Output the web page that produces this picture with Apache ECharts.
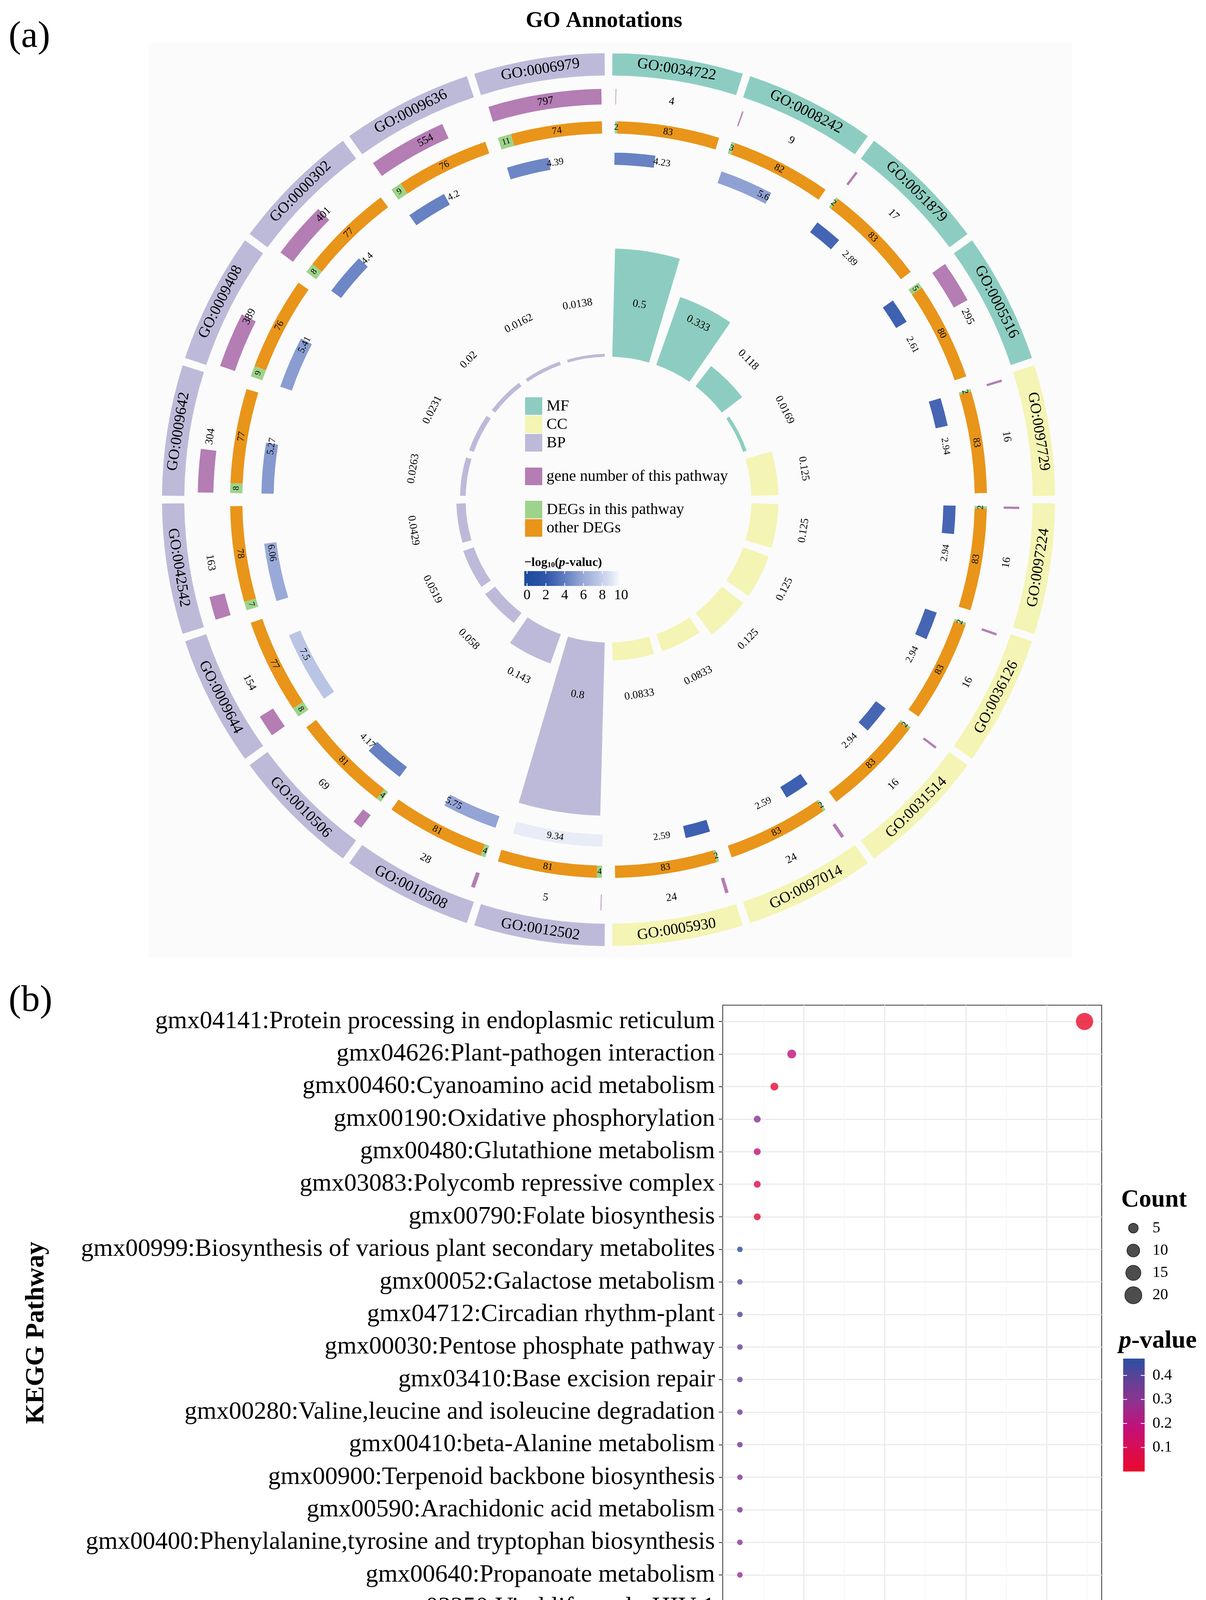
<!DOCTYPE html>
<html><head><meta charset="utf-8">
<script src="https://cdn.jsdelivr.net/npm/echarts@6/dist/echarts.min.js"></script>
<style>html,body{margin:0;padding:0;background:#fff}#c{width:3087px;height:4461px}</style>
</head><body><div id="c"></div>
<script>
// ================= DATA: GO circle (clockwise from 12 o'clock) =================
const goTerms = ['GO:0034722','GO:0008242','GO:0051879','GO:0005516','GO:0097729','GO:0097224','GO:0036126','GO:0031514','GO:0097014','GO:0005930','GO:0012502','GO:0010508','GO:0010506','GO:0009644','GO:0042542','GO:0009642','GO:0009408','GO:0000302','GO:0009636','GO:0006979'];
const goOntology = ['MF','MF','MF','MF','CC','CC','CC','CC','CC','CC','BP','BP','BP','BP','BP','BP','BP','BP','BP','BP'];
const geneNumber = [4,9,17,295,16,16,16,16,24,24,5,28,69,154,163,304,389,401,554,797];
const degsInPathway = [2,3,2,5,2,2,2,2,2,2,4,4,4,8,7,8,9,8,9,11];
const otherDegs = [83,82,83,80,83,83,83,83,83,83,81,81,81,77,78,77,76,77,76,74];
const negLog10P = [4.23,5.6,2.89,2.61,2.94,2.94,2.94,2.94,2.59,2.59,9.34,5.75,4.17,7.5,6.06,5.27,5.41,4.4,4.2,4.39];
const richFactor = [0.5,0.333,0.118,0.0169,0.125,0.125,0.125,0.125,0.0833,0.0833,0.8,0.143,0.058,0.0519,0.0429,0.0263,0.0231,0.02,0.0162,0.0138];
const ontologyNames = ['MF','CC','BP'];
const trackLegendNames = ['gene number of this pathway','DEGs in this pathway','other DEGs'];
const goPTicks = [0,2,4,6,8,10];

// ================= DATA: KEGG bubble chart (top to bottom) =================
const keggPathways = ['gmx04141:Protein processing in endoplasmic reticulum','gmx04626:Plant-pathogen interaction','gmx00460:Cyanoamino acid metabolism','gmx00190:Oxidative phosphorylation','gmx00480:Glutathione metabolism','gmx03083:Polycomb repressive complex','gmx00790:Folate biosynthesis','gmx00999:Biosynthesis of various plant secondary metabolites','gmx00052:Galactose metabolism','gmx04712:Circadian rhythm-plant','gmx00030:Pentose phosphate pathway','gmx03410:Base excision repair','gmx00280:Valine,leucine and isoleucine degradation','gmx00410:beta-Alanine metabolism','gmx00900:Terpenoid backbone biosynthesis','gmx00590:Arachidonic acid metabolism','gmx00400:Phenylalanine,tyrosine and tryptophan biosynthesis','gmx00640:Propanoate metabolism','gmx03250:Viral life cycle-HIV-1','gmx00430:Taurine and hypotaurine metabolism'];
const keggGeneRatio = [0.2234,0.0426,0.0319,0.0213,0.0213,0.0213,0.0213,0.0106,0.0106,0.0106,0.0106,0.0106,0.0106,0.0106,0.0106,0.0106,0.0106,0.0106,0.0106,0.0106];
const keggCount = [21,4,3,2,2,2,2,1,1,1,1,1,1,1,1,1,1,1,1,1];
const keggPValue = [0.003,0.19,0.025,0.31,0.19,0.07,0.035,0.465,0.40,0.395,0.385,0.37,0.355,0.345,0.335,0.325,0.305,0.275,0.24,0.13];
const countLegend = [5,10,15,20];
const pValueTicks = [0.1,0.2,0.3,0.4];

// ================= STYLE / LAYOUT =================
const SERIF = 'Liberation Serif';
const ontologyColor = {MF:'#8DCDC1', CC:'#F4F4B4', BP:'#BDBAD9'};
const COL_GENE = '#B47DB4', COL_DEG = '#9DD38A', COL_OTHER = '#E8951A';
const blueStops = [[0,'#1D4B9C'],[2,'#2F57A8'],[3,'#4767B5'],[4.3,'#6A84C4'],[5.5,'#8D9FD2'],[7.5,'#BAC5E6'],[9.34,'#E8ECF7'],[10,'#FFFFFF']];
const pColors = ['#EA0A2B','#D90C52','#C0117C','#93308E','#654097','#2A50A2'];
const P_MIN = 0, P_MAX = 0.47;
const CX = 1557.6, CY = 1279, R_OUT = 1143;
const U = R_OUT / 400;
const RING = {go:[380,400], gene:[354,368], deg:[328,339], pval:[300,311], innerLabel:177};
const INNER = {base:128, perUnit:194, max:0.8};
const PAD = {go:0.5, track:1.0, inner:1.5};
const SECTOR = 360 / goTerms.length;
const GENE_MAX = Math.max(...geneNumber);
const NLP_MAX = goPTicks[goPTicks.length-1];

function hex2rgb(h){return [parseInt(h.slice(1,3),16),parseInt(h.slice(3,5),16),parseInt(h.slice(5,7),16)];}
function blueAt(v){
  for(let k=0;k<blueStops.length-1;k++){
    const [v0,c0]=blueStops[k],[v1,c1]=blueStops[k+1];
    if(v<=v1||k===blueStops.length-2){
      const t=Math.max(0,Math.min(1,(v-v0)/(v1-v0)));
      const a=hex2rgb(c0),b=hex2rgb(c1);
      return 'rgb('+a.map((x,j)=>Math.round(x+(b[j]-x)*t)).join(',')+')';
    }
  }
}
function sizeOf(count){return 6 + 8.3*Math.sqrt(count);}

function arcSector(params, api, rv0, rv1, a0, a1){
  const cx=params.coordSys.cx, cy=params.coordSys.cy;
  const pIn=api.coord([rv0,a0]), pOut=api.coord([rv1,a1]);
  const r0=Math.hypot(pIn[0]-cx,pIn[1]-cy), r=Math.hypot(pOut[0]-cx,pOut[1]-cy);
  const t0=Math.atan2(pIn[1]-cy,pIn[0]-cx);
  let dt=Math.atan2(pOut[1]-cy,pOut[0]-cx)-t0;
  dt=((dt%(2*Math.PI))+2*Math.PI)%(2*Math.PI);
  if(dt>Math.PI) dt=0;
  return {cx,cy,r0,r,startAngle:t0,endAngle:t0+dt,clockwise:true};
}
function textAt(api, rv, a, text, size){
  const p=api.coord([rv,a]);
  const an=((a%360)+360)%360;
  let rot;
  if(an>90&&an<270) rot=(180-an)*Math.PI/180;
  else rot=-(an>180?an-360:an)*Math.PI/180;
  return {type:'text', x:p[0], y:p[1], rotation:rot, z2:20,
    style:{text:String(text), fill:'#000', fontSize:size, fontFamily:SERIF,
      align:'center', textAlign:'center', verticalAlign:'middle', textVerticalAlign:'middle'}};
}
const span = SECTOR - 2*PAD.track;
function trackStart(i){return i*SECTOR + PAD.track;}

const circleSeries = [
  { // outer GO ring
    type:'custom', coordinateSystem:'polar', polarIndex:0, silent:true,
    data: goTerms.map((t,i)=>[RING.go[1], i*SECTOR]),
    renderItem:(params,api)=>{
      const i=params.dataIndex;
      return {type:'group', children:[
        {type:'sector', shape:arcSector(params,api,RING.go[0],RING.go[1],i*SECTOR+PAD.go,(i+1)*SECTOR-PAD.go), style:{fill:ontologyColor[goOntology[i]]}},
        textAt(api,(RING.go[0]+RING.go[1])/2,(i+0.5)*SECTOR,goTerms[i],39)
      ]};
    }
  },
  { // gene number track
    type:'custom', coordinateSystem:'polar', polarIndex:0, silent:true,
    data: geneNumber.map((v,i)=>[RING.gene[1], i*SECTOR]),
    renderItem:(params,api)=>{
      const i=params.dataIndex, a0=trackStart(i);
      return {type:'group', children:[
        {type:'sector', shape:arcSector(params,api,RING.gene[0],RING.gene[1],a0,a0+geneNumber[i]/GENE_MAX*span), style:{fill:COL_GENE}},
        textAt(api,(RING.gene[0]+RING.gene[1])/2,(i+0.5)*SECTOR,geneNumber[i],28)
      ]};
    }
  },
  { // DEG stacked track
    type:'custom', coordinateSystem:'polar', polarIndex:0, silent:true,
    data: otherDegs.map((v,i)=>[RING.deg[1], i*SECTOR]),
    renderItem:(params,api)=>{
      const i=params.dataIndex, a0=trackStart(i);
      const tot=degsInPathway[i]+otherDegs[i];
      const am=a0+degsInPathway[i]/tot*span, a1=a0+span;
      const rm=(RING.deg[0]+RING.deg[1])/2;
      return {type:'group', children:[
        {type:'sector', shape:arcSector(params,api,RING.deg[0],RING.deg[1],a0,am), style:{fill:COL_DEG}},
        {type:'sector', shape:arcSector(params,api,RING.deg[0],RING.deg[1],am,a1), style:{fill:COL_OTHER}},
        textAt(api,rm,(a0+am)/2,degsInPathway[i],22),
        textAt(api,rm,(am+a1)/2,otherDegs[i],25)
      ]};
    }
  },
  { // -log10 p track
    type:'custom', coordinateSystem:'polar', polarIndex:0, silent:true,
    data: negLog10P.map((v,i)=>[RING.pval[1], i*SECTOR]),
    renderItem:(params,api)=>{
      const i=params.dataIndex, a0=trackStart(i), v=negLog10P[i];
      return {type:'group', children:[
        {type:'sector', shape:arcSector(params,api,RING.pval[0],RING.pval[1],a0,a0+v/NLP_MAX*span), style:{fill:blueAt(v)}},
        textAt(api,(RING.pval[0]+RING.pval[1])/2,(i+0.5)*SECTOR,v,25)
      ]};
    }
  },
  { // inner bars (value scale on polar 1)
    type:'custom', coordinateSystem:'polar', polarIndex:1, silent:true,
    data: richFactor.map((v,i)=>[v, i*SECTOR]),
    renderItem:(params,api)=>{
      const i=params.dataIndex;
      return {type:'sector', shape:arcSector(params,api,0,richFactor[i],i*SECTOR+PAD.inner,(i+1)*SECTOR-PAD.inner), style:{fill:ontologyColor[goOntology[i]]}};
    }
  },
  { // inner labels
    type:'custom', coordinateSystem:'polar', polarIndex:0, silent:true,
    data: richFactor.map((v,i)=>[RING.innerLabel, i*SECTOR]),
    renderItem:(params,api)=>{
      const i=params.dataIndex;
      return textAt(api,RING.innerLabel,(i+0.5)*SECTOR,richFactor[i],28);
    }
  }
];

// ================= KEGG layout =================
const GRID = {left:1850, top:2573.3, width:970, height:1666.8};
const scatterSeries = {
  type:'scatter', xAxisIndex:0, yAxisIndex:0, symbol:'circle',
  data: keggPathways.map((n,i)=>[keggGeneRatio[i], i, keggPValue[i], keggCount[i]]),
  symbolSize:(val)=>sizeOf(val[3]),
  itemStyle:{opacity:0.8}, z:5
};

// ================= graphic (titles, legends) =================
const G = [];
function txt(x,y,text,st,align,extra){
  return Object.assign({type:'text', x, y, z:100, silent:true,
    style:Object.assign({text, fill:'#000', fontFamily:SERIF, align:align||'left', textAlign:align||'left', verticalAlign:'middle', textVerticalAlign:'middle'}, st)}, extra||{});
}
G.push({type:'rect', shape:{x:380,y:109,width:2364,height:2343}, style:{fill:'#FBFBFB'}, z:-10, silent:true});
G.push(txt(22,95,'(a)',{fontSize:96},'left'));
G.push(txt(1546,54,'GO Annotations',{fontSize:57,fontWeight:'bold'},'center'));
// center legend
const legendRows = [
  [ontologyNames[0], ontologyColor.MF, 1017],
  [ontologyNames[1], ontologyColor.CC, 1064],
  [ontologyNames[2], ontologyColor.BP, 1111],
  [trackLegendNames[0], COL_GENE, 1197],
  [trackLegendNames[1], COL_DEG, 1282],
  [trackLegendNames[2], COL_OTHER, 1329]
];
legendRows.forEach(([label,color,y])=>{
  G.push({type:'rect', shape:{x:1344,y:y,width:44,height:45}, style:{fill:color}, z:100, silent:true});
  G.push(txt(1399,y+23,label,{fontSize:40},'left'));
});
// -log10(p) colorbar
G.push(txt(1342,1441,'{b|−log}{s|10}{b|(}{i|p}{b|-valuc)}',{rich:{
  b:{fontSize:32,fontWeight:'bold',fontFamily:SERIF},
  s:{fontSize:19,fontWeight:'bold',fontFamily:SERIF,verticalAlign:'bottom',padding:[10,0,0,0]},
  i:{fontSize:32,fontWeight:'bold',fontStyle:'italic',fontFamily:SERIF}}},'left'));
const gbX0=1349, gbX1=1590, gbY0=1462, gbY1=1500;
const gbStops=[{offset:0,color:blueAt(0)}];
for(let k=0;k<=20;k++){const v=k/2; gbStops.push({offset:(gbX0-1342+(gbX1-gbX0)*v/NLP_MAX)/(gbX1-1342), color:blueAt(v)});}
G.push({type:'rect', shape:{x:1342,y:gbY0,width:gbX1-1342,height:gbY1-gbY0}, style:{fill:{type:'linear',x:0,y:0,x2:1,y2:0,colorStops:gbStops}}, z:100, silent:true});
goPTicks.forEach(v=>{
  const x=gbX0+(gbX1-gbX0)*v/NLP_MAX;
  if(v<NLP_MAX){
    G.push({type:'line', shape:{x1:x,y1:gbY0,x2:x,y2:gbY0+7}, style:{stroke:'#fff',lineWidth:2}, z:101, silent:true});
    G.push({type:'line', shape:{x1:x,y1:gbY1-7,x2:x,y2:gbY1}, style:{stroke:'#fff',lineWidth:2}, z:101, silent:true});
  }
  G.push(txt(x,1525,String(v),{fontSize:36},'center'));
});
// panel b texts
G.push(txt(22,2563,'(b)',{fontSize:96},'left'));
G.push(txt(94,3412,'KEGG Pathway',{fontSize:67,fontWeight:'bold'},'center',{rotation:Math.PI/2}));
G.push(txt(2870,3073,'Count',{fontSize:63,fontWeight:'bold'},'left'));
countLegend.forEach((c,k)=>{
  const y=3144+k*57.3;
  G.push({type:'circle', shape:{cx:2901,cy:y,r:sizeOf(c)/2}, style:{fill:'#4D4D4D',stroke:'#2A2A2A',lineWidth:2}, z:100, silent:true});
  G.push(txt(2950,y,String(c),{fontSize:40},'left'));
});
G.push(txt(2864,3433,'{i|p}{b|-value}',{rich:{
  b:{fontSize:64,fontWeight:'bold',fontFamily:SERIF},
  i:{fontSize:64,fontWeight:'bold',fontStyle:'italic',fontFamily:SERIF}}},'left'));
const cbX=2875, cbW=55, cbTop=3478, cbBot=3767;
G.push({type:'rect', shape:{x:cbX,y:cbTop,width:cbW,height:cbBot-cbTop}, style:{fill:{type:'linear',x:0,y:0,x2:0,y2:1,
  colorStops:pColors.slice().reverse().map((c,k)=>({offset:k/(pColors.length-1),color:c}))}}, z:100, silent:true});
pValueTicks.forEach(v=>{
  const y=cbBot-(v-P_MIN)/(P_MAX-P_MIN)*(cbBot-cbTop);
  G.push({type:'line', shape:{x1:cbX,y1:y,x2:cbX+10,y2:y}, style:{stroke:'#fff',lineWidth:2}, z:101, silent:true});
  G.push({type:'line', shape:{x1:cbX+cbW-10,y1:y,x2:cbX+cbW,y2:y}, style:{stroke:'#fff',lineWidth:2}, z:101, silent:true});
  G.push(txt(2950,y,v.toFixed(1),{fontSize:40},'left'));
});

const hidden = {show:false, axisLine:{show:false}, axisTick:{show:false}, axisLabel:{show:false}, splitLine:{show:false}};
const option = {
  animation:false,
  backgroundColor:'#ffffff',
  textStyle:{fontFamily:SERIF},
  polar:[
    {center:[CX,CY], radius:[0,R_OUT]},
    {center:[CX,CY], radius:[INNER.base*U,(INNER.base+INNER.max*INNER.perUnit)*U]}
  ],
  angleAxis:[
    Object.assign({polarIndex:0,type:'value',min:0,max:360,startAngle:90,clockwise:true},hidden),
    Object.assign({polarIndex:1,type:'value',min:0,max:360,startAngle:90,clockwise:true},hidden)
  ],
  radiusAxis:[
    Object.assign({polarIndex:0,type:'value',min:0,max:400},hidden),
    Object.assign({polarIndex:1,type:'value',min:0,max:INNER.max},hidden)
  ],
  grid:[Object.assign({show:true, borderColor:'#333', borderWidth:2, backgroundColor:'#fff', containLabel:false}, GRID)],
  xAxis:[
    {gridIndex:0, type:'value', min:0, max:0.234, interval:0.05, z:3,
     axisLine:{show:false},
     axisTick:{show:true,length:10,lineStyle:{color:'#333',width:2}},
     axisLabel:{fontSize:54,fontFamily:SERIF,color:'#1a1a1a',margin:22,
       formatter:(v)=>(v>0.001 && Math.abs(v/0.05-Math.round(v/0.05))<1e-6)?v.toFixed(2):''},
     splitLine:{show:true,showMinLine:false,showMaxLine:false,lineStyle:{color:'#EBEBEB',width:3}},
     name:'GeneRatio', nameLocation:'middle', nameGap:150,
     nameTextStyle:{fontSize:66,fontWeight:'bold',fontFamily:SERIF,color:'#000'}},
    {gridIndex:0, type:'value', min:0, max:0.234, interval:0.025, z:1, position:'bottom',
     axisLine:{show:false}, axisTick:{show:false}, axisLabel:{show:false},
     splitLine:{show:true,showMinLine:false,showMaxLine:false,lineStyle:{color:'#F3F3F3',width:1.5}}}
  ],
  yAxis:[
    {gridIndex:0, type:'category', data:keggPathways, inverse:true,
     axisLine:{show:false},
     axisTick:{show:true,alignWithLabel:true,length:10,lineStyle:{color:'#333',width:2}},
     axisLabel:{interval:0,fontSize:64,fontFamily:SERIF,color:'#000',margin:20},
     splitLine:{show:true,alignWithLabel:true,interval:0,lineStyle:{color:'#EBEBEB',width:3}}}
  ],
  visualMap:[{type:'continuous', show:false, seriesIndex:circleSeries.length, dimension:2, min:P_MIN, max:P_MAX, inRange:{color:pColors}}],
  series: circleSeries.concat([scatterSeries]),
  graphic:{elements:G}
};
const chart = echarts.init(document.getElementById('c'), null, {renderer:'canvas'});
chart.setOption(option);
</script></body></html>
